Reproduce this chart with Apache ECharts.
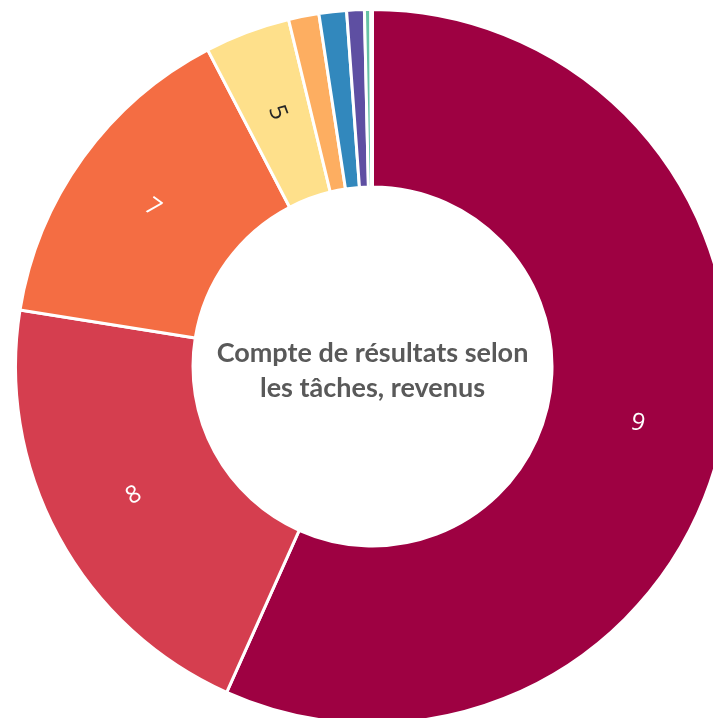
<!DOCTYPE html>
<html><head><meta charset="utf-8">
<script src="https://cdn.jsdelivr.net/npm/echarts@6/dist/echarts.min.js"></script>
<style>html,body{margin:0;padding:0;background:#fff;overflow:hidden}#c{width:713px;height:718px}</style>
</head><body><div id="c"></div>
<script>
const categories = ['9', '8', '7', '5', '6', '4', '3', '2', '1'];
const values = [56.69, 20.83, 14.83, 3.86, 1.375, 1.244, 0.797, 0.286, 0.075];
const colors = ['#9E0142', '#D53E4F', '#F46D43', '#FEE08B', '#FDAE61', '#3288BD', '#5E4FA2', '#66C2A5', '#ABDDA4'];
const labelColors = ['#ffffff', '#ffffff', '#ffffff', '#262626'];
const titleLines = ['Compte de résultats selon', 'les tâches, revenus'];

const labelFont = {fontFamily: 'Open Sans', fontSize: 24, fontWeight: 'normal'};
const chart = echarts.init(document.getElementById('c'), null, {renderer: 'canvas'});
const data = categories.map((name, i) => ({
  name: name,
  value: values[i],
  itemStyle: {color: colors[i]},
  label: i < labelColors.length
    ? Object.assign({show: true, color: labelColors[i]}, labelFont)
    : {show: false}
}));

chart.setOption({
  animation: false,
  backgroundColor: '#ffffff',
  series: [{
    type: 'pie',
    center: [372.5, 366.5],
    radius: [179.5, 357],
    startAngle: 90,
    clockwise: true,
    avoidLabelOverlap: false,
    itemStyle: {borderColor: '#ffffff', borderWidth: 3},
    label: Object.assign({
      position: 'inside',
      rotate: 'radial',
      formatter: '{b}'
    }, labelFont),
    labelLine: {show: false},
    emphasis: {disabled: true},
    data: data
  }],
  graphic: [{
    type: 'text',
    x: 372.5,
    y: 371,
    silent: true,
    style: {
      text: titleLines.join('\n'),
      textAlign: 'center',
      textVerticalAlign: 'middle',
      fontFamily: 'Lato',
      fontWeight: 'bold',
      fontSize: 27,
      lineHeight: 35,
      fill: '#595959'
    }
  }]
});
</script>
</body></html>
